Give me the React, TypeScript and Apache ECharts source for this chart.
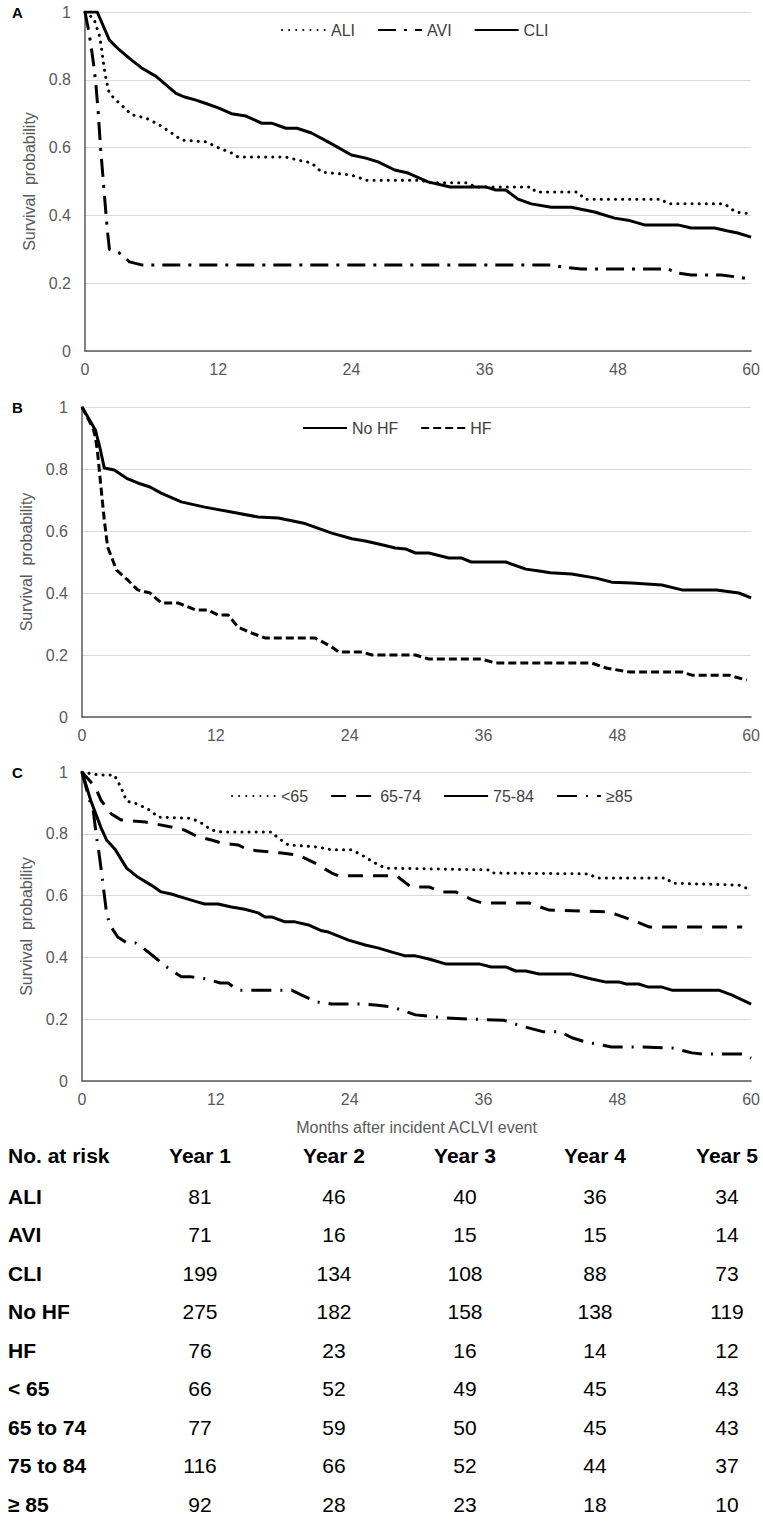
import React, { useEffect, useRef } from "react";
import * as echarts from "echarts";

type P = [number, number];

// Panel A: survival by ACLVI type (month, survival probability)
const ALI: P[] = [[0,1],[0.8,0.98],[1.0,0.96],[1.3,0.93],[1.5,0.89],[1.7,0.84],[1.9,0.80],[2.2,0.76],[2.8,0.74],[3.3,0.725],[4.2,0.697],[5.5,0.687],[6.7,0.667],[7.8,0.643],[8.7,0.622],[10.9,0.617],[12,0.6],[13.2,0.584],[13.8,0.572],[18.1,0.572],[19.2,0.563],[20.4,0.555],[21.3,0.528],[24,0.519],[25.3,0.504],[30.3,0.504],[30.9,0.496],[34.5,0.496],[35.1,0.484],[40.2,0.484],[40.6,0.469],[44.4,0.469],[45,0.448],[51.9,0.448],[52.5,0.434],[57.6,0.434],[58.6,0.41],[60,0.405]];
const AVI: P[] = [[0,1],[0.3,0.95],[0.5,0.91],[0.8,0.84],[1.0,0.78],[1.2,0.70],[1.4,0.60],[1.6,0.52],[1.8,0.44],[2.0,0.36],[2.2,0.30],[3.1,0.289],[4.0,0.263],[5.1,0.254],[42,0.254],[43,0.248],[44.7,0.242],[52.5,0.242],[53.4,0.23],[54.6,0.224],[57.3,0.224],[58.8,0.218],[60,0.212]];
const CLI: P[] = [[0,1],[1.1,1],[2.2,0.917],[3.1,0.888],[4.2,0.858],[5.1,0.835],[6.4,0.81],[7.3,0.785],[8.2,0.76],[8.9,0.75],[10,0.74],[10.9,0.73],[12,0.717],[13.2,0.70],[14.5,0.693],[15.9,0.672],[16.8,0.672],[18.1,0.657],[19.1,0.657],[20.4,0.643],[21.9,0.617],[24,0.578],[25.3,0.569],[26.4,0.558],[27.9,0.534],[29.1,0.525],[30.9,0.499],[32.9,0.484],[36.1,0.484],[37,0.475],[37.9,0.475],[39,0.448],[40.2,0.434],[42,0.424],[43.8,0.424],[45.9,0.41],[47.7,0.392],[48.9,0.386],[50.4,0.372],[53.4,0.372],[54.6,0.363],[56.7,0.363],[57.9,0.354],[58.8,0.348],[60,0.336]];

// Panel B: heart failure
const NO_HF: P[] = [[0,1],[1.2,0.926],[1.6,0.87],[2.0,0.803],[2.9,0.797],[4,0.77],[5,0.755],[6.1,0.742],[7.1,0.722],[8.9,0.694],[11,0.677],[13.4,0.661],[15.8,0.645],[17.6,0.642],[20,0.624],[22.4,0.593],[24.2,0.575],[25.4,0.568],[26.6,0.558],[28.1,0.545],[29,0.542],[29.9,0.529],[31.1,0.529],[32.9,0.513],[34,0.513],[34.9,0.5],[38,0.5],[39.8,0.477],[41,0.471],[42,0.465],[43.9,0.461],[46.1,0.448],[47.5,0.435],[49.3,0.432],[52,0.426],[53.8,0.41],[56.9,0.41],[58.9,0.4],[60,0.384]];
const HF: P[] = [[0,1],[1.0,0.93],[1.2,0.903],[1.4,0.852],[1.7,0.742],[2.0,0.635],[2.3,0.548],[3.1,0.474],[4.1,0.442],[5,0.41],[6.1,0.4],[7.1,0.368],[8.6,0.368],[10.2,0.345],[11.3,0.345],[12.2,0.329],[13.1,0.329],[14,0.29],[15.2,0.271],[16.4,0.255],[20.9,0.255],[22.4,0.226],[23,0.21],[25.1,0.21],[26,0.2],[29.9,0.2],[31.1,0.187],[35.8,0.187],[37.1,0.174],[45.7,0.174],[47,0.158],[49.1,0.145],[53.8,0.145],[54.7,0.135],[58,0.135],[59.6,0.119]];

// Panel C: age groups
const AGE_LT65: P[] = [[0,1],[1.5,0.99],[2.9,0.99],[3.5,0.95],[4,0.906],[5,0.896],[6.2,0.874],[6.8,0.854],[9.8,0.85],[10.7,0.835],[11.6,0.812],[12.5,0.806],[17,0.806],[17.6,0.786],[18.5,0.764],[21.2,0.757],[22.4,0.748],[24.2,0.748],[25.1,0.731],[26.3,0.705],[27.2,0.689],[36.5,0.683],[36.8,0.673],[45.5,0.67],[46.1,0.657],[52.4,0.657],[52.9,0.64],[58.9,0.634],[59.6,0.624]];
const AGE_65_74: P[] = [[0,1],[1.2,0.951],[1.7,0.909],[2.6,0.865],[3.5,0.845],[5.7,0.838],[8,0.822],[9.2,0.812],[10.4,0.79],[11.6,0.78],[12.5,0.77],[14,0.764],[14.9,0.748],[17,0.741],[17.9,0.738],[19.4,0.731],[20.9,0.705],[22.4,0.673],[23,0.664],[28.2,0.664],[29.5,0.628],[31.1,0.628],[32.3,0.612],[33.5,0.612],[35,0.586],[35.9,0.576],[40.1,0.576],[41.9,0.553],[47.3,0.547],[49.3,0.521],[50.9,0.498],[59.2,0.498]];
const AGE_75_84: P[] = [[0,1],[0.8,0.906],[1.7,0.82],[2.2,0.78],[3,0.748],[4,0.689],[5,0.66],[6.2,0.634],[7.1,0.612],[8,0.605],[9.2,0.592],[10.4,0.579],[11,0.573],[12.2,0.573],[13.4,0.563],[14.6,0.556],[15.8,0.544],[16.4,0.531],[17,0.531],[18.2,0.515],[19.1,0.515],[20.3,0.505],[21.5,0.486],[22.1,0.482],[23.9,0.456],[25.4,0.44],[26.6,0.43],[27.8,0.417],[29,0.405],[29.9,0.405],[31.1,0.395],[32.6,0.379],[35.6,0.379],[36.7,0.369],[38,0.369],[38.9,0.356],[39.8,0.356],[41,0.346],[43.9,0.346],[45.7,0.33],[47,0.32],[48.2,0.32],[48.8,0.314],[49.9,0.314],[50.8,0.304],[52,0.304],[52.9,0.294],[57.1,0.294],[58.3,0.278],[60,0.249]];
const AGE_85P: P[] = [[0,1],[0.7,0.906],[1,0.877],[1.3,0.79],[1.5,0.744],[1.7,0.69],[2.2,0.544],[2.5,0.505],[3.2,0.466],[4,0.447],[4.8,0.447],[5.5,0.43],[6.6,0.398],[7.7,0.366],[8.9,0.337],[9.8,0.337],[11.2,0.33],[12.4,0.317],[13.1,0.317],[14,0.294],[18.8,0.294],[19.7,0.278],[21,0.256],[22.4,0.249],[24.8,0.249],[26.3,0.246],[27.8,0.24],[29.9,0.214],[32.6,0.204],[35,0.2],[37.8,0.197],[39.4,0.178],[41.4,0.159],[42.9,0.159],[44,0.139],[45.2,0.126],[47.5,0.11],[50.2,0.11],[52.9,0.107],[54.7,0.091],[55.6,0.087],[59.2,0.087],[60,0.074]];

// Number-at-risk table
const TABLE_HEAD = ["No. at risk", "Year 1", "Year 2", "Year 3", "Year 4", "Year 5"];
const RISK_GROUPS = ["ALI", "AVI", "CLI", "No HF", "HF", "< 65", "65 to 74", "75 to 84", "\u2265 85"];
const AT_RISK: number[][] = [
  [81, 46, 40, 36, 34],
  [71, 16, 15, 15, 14],
  [199, 134, 108, 88, 73],
  [275, 182, 158, 138, 119],
  [76, 23, 16, 14, 12],
  [66, 52, 49, 45, 43],
  [77, 59, 50, 45, 43],
  [116, 66, 52, 44, 37],
  [92, 28, 23, 18, 10],
];

const FONT = "'Liberation Sans', Arial, sans-serif";
const GREY = "#595959";

export default function App() {
  const ref = useRef<HTMLDivElement>(null);
  useEffect(() => {
    const chart = echarts.init(ref.current!, null, { renderer: "svg" });

    const panels = [
      {
        letter: "A", top: 12, height: 339, left: 85, legendLeft: 276, legendTop: 17,
        series: [
          { name: "ALI", data: ALI, type: [0.1, 7], cap: "round" },
          { name: "AVI", data: AVI, type: [18, 8, 3, 8], cap: "butt" },
          { name: "CLI", data: CLI, type: "solid", cap: "butt" },
        ],
      },
      {
        letter: "B", top: 407, height: 310, left: 82, legendLeft: 297, legendTop: 415,
        series: [
          { name: "No HF", data: NO_HF, type: "solid", cap: "butt" },
          { name: "HF", data: HF, type: [8, 4], cap: "butt" },
        ],
      },
      {
        letter: "C", top: 772, height: 309, left: 82, legendLeft: 226, legendTop: 783,
        series: [
          { name: "<65", data: AGE_LT65, type: [0.1, 7], cap: "round" },
          { name: "65-74", data: AGE_65_74, type: [15, 10], cap: "butt" },
          { name: "75-84", data: AGE_75_84, type: "solid", cap: "butt" },
          { name: "\u226585", data: AGE_85P, type: [20, 9, 2, 9], cap: "butt" },
        ],
      },
    ];

    const grid: any[] = [];
    const xAxis: any[] = [];
    const yAxis: any[] = [];
    const legend: any[] = [];
    const series: any[] = [];
    const graphic: any[] = [];

    panels.forEach((p, i) => {
      grid.push({ left: p.left, right: 10, top: p.top, height: p.height });
      xAxis.push({
        type: "value", gridIndex: i, min: 0, max: 60, interval: 12,
        axisLine: { show: true, onZero: false, lineStyle: { color: GREY, width: 1.5 } },
        axisTick: { show: false },
        splitLine: { show: false },
        axisLabel: { color: GREY, fontSize: 16, fontFamily: FONT, margin: 10 },
        name: i === 2 ? "Months after incident ACLVI event" : "",
        nameLocation: "middle",
        nameGap: 38,
        nameTextStyle: { color: GREY, fontSize: 16, fontFamily: FONT },
      });
      yAxis.push({
        type: "value", gridIndex: i, min: 0, max: 1, interval: 0.2,
        axisLine: { show: true, lineStyle: { color: GREY, width: 1.5 } },
        axisTick: { show: false },
        splitLine: { show: true, lineStyle: { color: "#d9d9d9", width: 1 } },
        axisLabel: { color: GREY, fontSize: 16, fontFamily: FONT, margin: 14 },
        name: "Survival  probability",
        nameLocation: "middle",
        nameGap: 40,
        nameTextStyle: { color: GREY, fontSize: 16, fontFamily: FONT },
      });
      legend.push({
        data: p.series.map((s) => s.name),
        left: p.legendLeft, top: p.legendTop,
        itemWidth: 44, itemHeight: 14, itemGap: 22,
        itemStyle: { opacity: 0 },
        textStyle: { color: "#404040", fontSize: 16, fontFamily: FONT },
        selectedMode: false,
      });
      p.series.forEach((s) => {
        series.push({
          type: "line", name: s.name, xAxisIndex: i, yAxisIndex: i,
          data: s.data, symbol: "none", showSymbol: false,
          lineStyle: { color: "#000", width: 3, type: s.type, cap: s.cap, join: "round" },
          itemStyle: { color: "#000" },
        });
      });
      graphic.push({
        type: "text", x: 12, y: p.top,
        style: { text: p.letter, fontSize: 15, fontWeight: "bold", fontFamily: FONT, fill: "#000", textVerticalAlign: "middle" },
      });
    });

    const colX = [8, 200, 334, 465, 595, 727];
    const headY = 1155;
    const rowY0 = 1196;
    const rowStep = 38.5;
    TABLE_HEAD.forEach((h, c) => {
      graphic.push({
        type: "text", x: colX[c], y: headY,
        style: {
          text: h, fontSize: 21, fontWeight: "bold", fontFamily: FONT, fill: "#000",
          textAlign: c === 0 ? "left" : "center", textVerticalAlign: "middle",
        },
      });
    });
    RISK_GROUPS.forEach((g, r) => {
      const y = rowY0 + r * rowStep;
      graphic.push({
        type: "text", x: colX[0], y,
        style: { text: g, fontSize: 21, fontWeight: "bold", fontFamily: FONT, fill: "#000", textAlign: "left", textVerticalAlign: "middle" },
      });
      AT_RISK[r].forEach((v, c) => {
        graphic.push({
          type: "text", x: colX[c + 1], y,
          style: { text: String(v), fontSize: 21, fontFamily: FONT, fill: "#000", textAlign: "center", textVerticalAlign: "middle" },
        });
      });
    });

    chart.setOption({
      animation: false,
      backgroundColor: "#fff",
      grid, xAxis, yAxis, legend, series, graphic,
    });
    return () => chart.dispose();
  }, []);
  return (
    <div
      ref={ref}
      style={{ position: "absolute", left: 0, top: 0, width: 763, height: 1524, background: "#fff" }}
    />
  );
}
